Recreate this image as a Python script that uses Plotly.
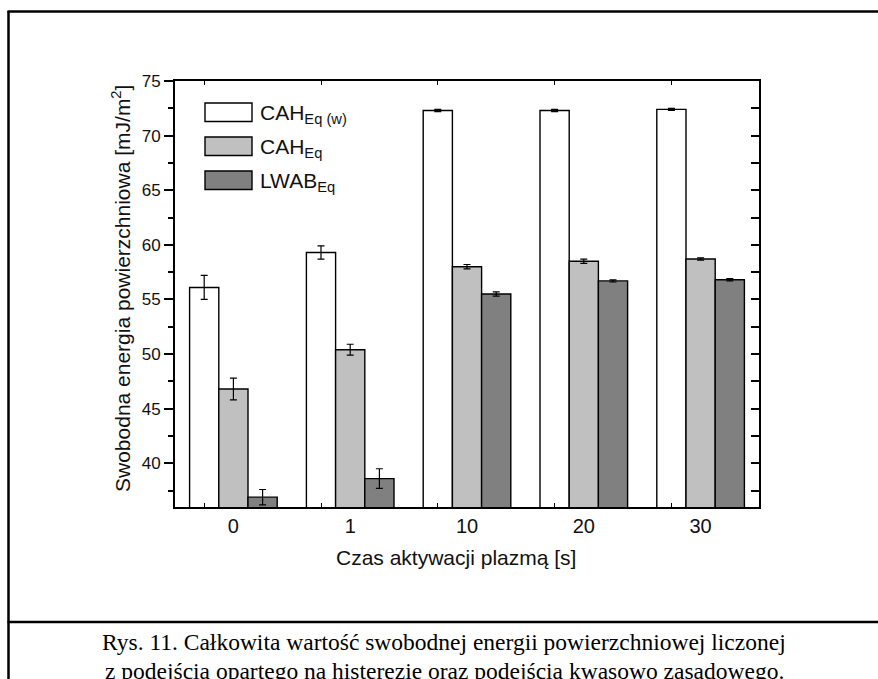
import plotly.graph_objects as go

# Plasma activation time groups and surface free energy values [mJ/m2]
categories = ["0", "1", "10", "20", "30"]
cah_w = [56.1, 59.3, 72.3, 72.3, 72.4]
cah_w_err = [1.1, 0.6, 0.1, 0.1, 0.1]
cah = [46.8, 50.4, 58.0, 58.5, 58.7]
cah_err = [1.0, 0.5, 0.2, 0.2, 0.1]
lwab = [36.9, 38.6, 55.5, 56.7, 56.8]
lwab_err = [0.7, 0.9, 0.2, 0.1, 0.1]

series_names = ["CAH<sub>Eq (w)</sub>", "CAH<sub>Eq</sub>", "LWAB<sub>Eq</sub>"]
series_colors = ["#ffffff", "#c0c0c0", "#808080"]

W, H = 878, 679
L, R, T, B = 175, 119, 81, 172
PW, PH = W - L - R, H - T - B

SANS = "Liberation Sans, Arial, sans-serif"
SERIF = "Liberation Serif, Times New Roman, serif"


def px_x(px):
    return (px - L) / PW


def px_y(py):
    return (H - B - py) / PH


xpos = list(range(len(categories)))

fig = go.Figure()
for name, vals, errs, col in zip(series_names, [cah_w, cah, lwab],
                                 [cah_w_err, cah_err, lwab_err], series_colors):
    fig.add_trace(go.Bar(
        x=xpos, y=vals, name=name,
        marker=dict(color=col, line=dict(color="#000000", width=1.4)),
        error_y=dict(type="data", array=errs, visible=True,
                     color="#000000", thickness=1.2, width=3.5),
        showlegend=False,
    ))

# helper trace so the mirrored axes are drawn
fig.add_trace(go.Scatter(x=[None], y=[None], xaxis="x2", yaxis="y2",
                         showlegend=False, hoverinfo="skip"))

yr = [36, 75]
fig.update_layout(
    width=W, height=H, autosize=False,
    margin=dict(l=L, r=R, t=T, b=B, pad=0),
    paper_bgcolor="#ffffff", plot_bgcolor="#ffffff",
    barmode="group", bargap=0.25, bargroupgap=0,
    font=dict(family=SANS, size=17, color="#111111"),
    xaxis=dict(
        range=[-0.5, 4.5], tickmode="array", tickvals=xpos, ticktext=categories,
        ticks="", showgrid=False, zeroline=False,
        showline=True, linecolor="#000000", linewidth=2,
        tickfont=dict(family=SANS, size=20, color="#111111"),
        minor=dict(tickmode="array", tickvals=[v - 0.25 for v in xpos],
                   ticks="inside", ticklen=4, tickwidth=1.2, tickcolor="#000000"),
    ),
    yaxis=dict(
        range=yr, tickmode="array", tickvals=list(range(40, 76, 5)),
        ticks="outside", ticklen=9, tickwidth=1.5, tickcolor="#000000",
        showgrid=False, zeroline=False,
        showline=True, linecolor="#000000", linewidth=2,
        tickfont=dict(family=SANS, size=17, color="#111111"),
        minor=dict(tickmode="array", tickvals=[37.5 + 5 * i for i in range(8)],
                   ticks="outside", ticklen=5, tickwidth=1.5, tickcolor="#000000"),
    ),
    xaxis2=dict(
        overlaying="x", side="top", anchor="y", range=[-0.5, 4.5],
        tickmode="array", tickvals=[v - 0.25 for v in xpos],
        ticks="inside", ticklen=4, tickwidth=1.2, tickcolor="#000000",
        showticklabels=False, showgrid=False, zeroline=False,
        showline=True, linecolor="#000000", linewidth=2,
    ),
    yaxis2=dict(
        overlaying="y", side="right", anchor="x", range=yr,
        tickmode="array", tickvals=[37.5 + 2.5 * i for i in range(16)],
        ticks="inside", ticklen=8, tickwidth=1.5, tickcolor="#000000",
        showticklabels=False, showgrid=False, zeroline=False,
        showline=True, linecolor="#000000", linewidth=2,
    ),
)

shapes = []
annotations = []

# Legend drawn as boxes with labels
leg_x0, leg_x1 = 205, 252
leg_tops = [103, 137, 171]
for name, col, top in zip(series_names, series_colors, leg_tops):
    shapes.append(dict(type="rect", xref="paper", yref="paper",
                       x0=px_x(leg_x0), x1=px_x(leg_x1),
                       y0=px_y(top + 18.5), y1=px_y(top),
                       fillcolor=col, line=dict(color="#000000", width=1.4)))
    annotations.append(dict(xref="paper", yref="paper",
                            x=px_x(258), y=px_y(top + 11),
                            xanchor="left", yanchor="middle", showarrow=False,
                            text=name, font=dict(family=SANS, size=21, color="#111111")))

# Axis titles
annotations.append(dict(xref="paper", yref="paper", x=px_x(456), y=px_y(557),
                        xanchor="center", yanchor="middle", showarrow=False,
                        text="Czas aktywacji plazmą [s]",
                        font=dict(family=SANS, size=21, color="#111111")))
annotations.append(dict(xref="paper", yref="paper", x=px_x(121), y=px_y(289),
                        xanchor="center", yanchor="middle", showarrow=False,
                        textangle=-90,
                        text="Swobodna energia powierzchniowa [mJ/m<sup>2</sup>]",
                        font=dict(family=SANS, size=21, color="#111111")))

# Page frame and caption separator
frame = dict(color="#000000", width=2.5)
shapes.append(dict(type="line", xref="paper", yref="paper",
                   x0=px_x(8.5), x1=px_x(8.5), y0=px_y(11), y1=px_y(H + 5), line=frame))
shapes.append(dict(type="line", xref="paper", yref="paper",
                   x0=px_x(7.5), x1=px_x(W + 5), y0=px_y(11.5), y1=px_y(11.5), line=frame))
shapes.append(dict(type="line", xref="paper", yref="paper",
                   x0=px_x(7.5), x1=px_x(W + 5), y0=px_y(622), y1=px_y(622), line=frame))

# Caption
caption = ["Rys. 11. Całkowita wartość swobodnej energii powierzchniowej liczonej",
           "z podejścia opartego na histerezie oraz podejścia kwasowo zasadowego."]
for i, line in enumerate(caption):
    annotations.append(dict(xref="paper", yref="paper", x=px_x(444), y=px_y(642 + 28.5 * i),
                            xanchor="center", yanchor="middle", showarrow=False,
                            text=line, font=dict(family=SERIF, size=23.5, color="#000000")))

fig.update_layout(shapes=shapes, annotations=annotations)

fig.write_html("out.html")
